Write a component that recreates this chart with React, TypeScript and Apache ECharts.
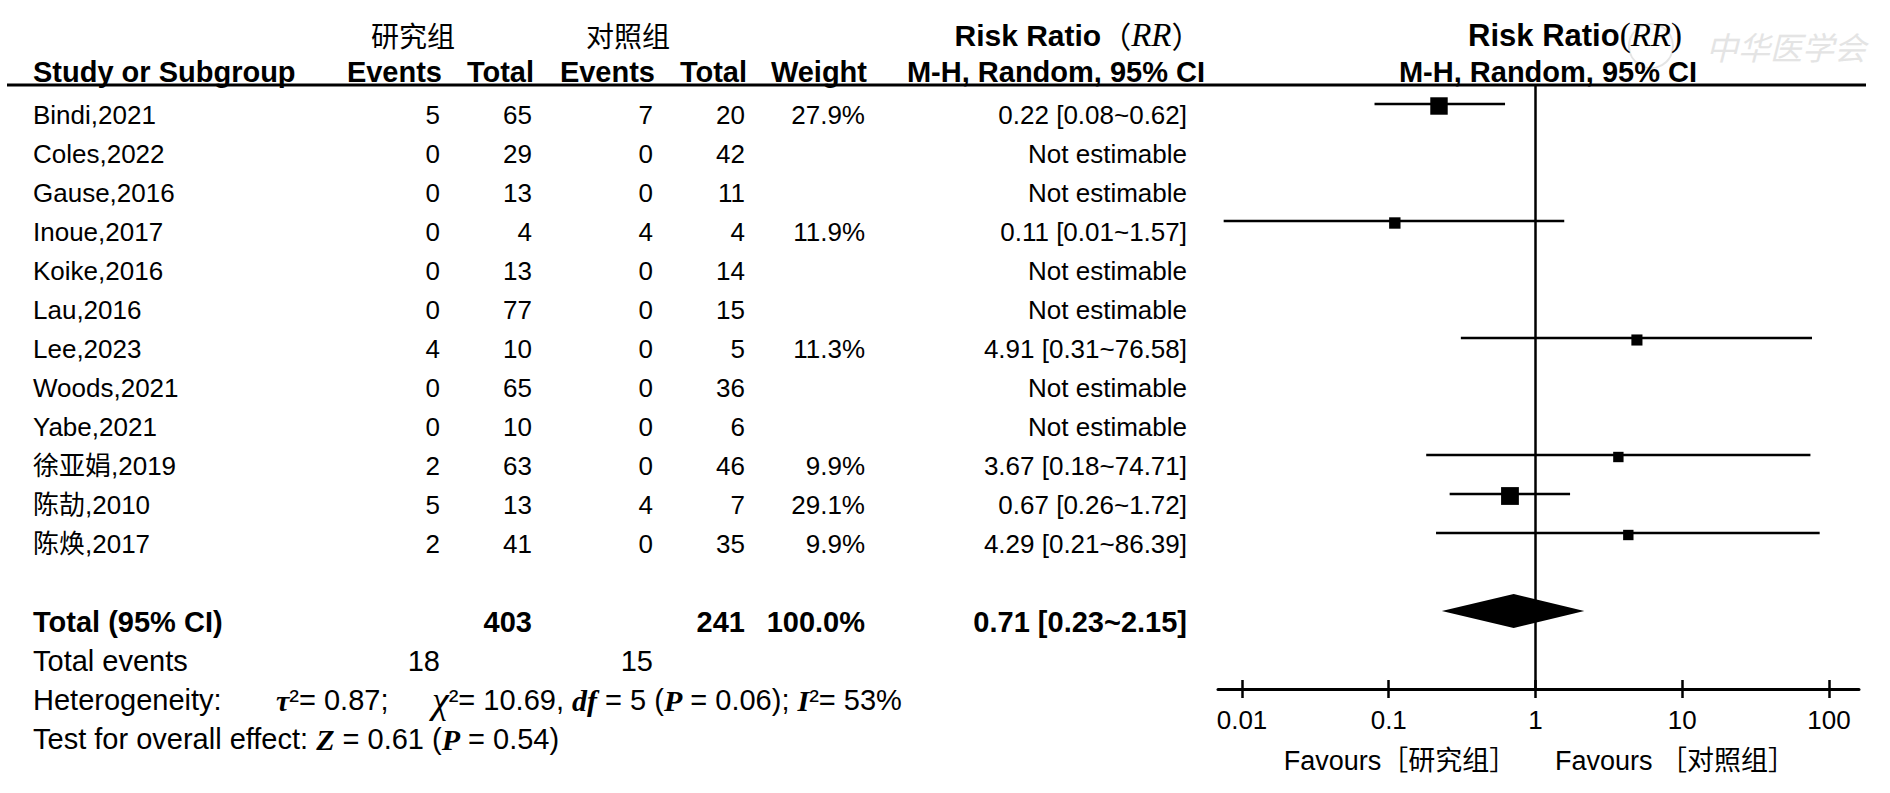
import React, { useEffect, useRef } from "react";
import * as echarts from "echarts";

// ---------------- data ----------------
const studies = ["Bindi,2021", "Coles,2022", "Gause,2016", "Inoue,2017", "Koike,2016", "Lau,2016", "Lee,2023", "Woods,2021", "Yabe,2021", "徐亚娟,2019", "陈劼,2010", "陈焕,2017"];
const expEvents = [5, 0, 0, 0, 0, 0, 4, 0, 0, 2, 5, 2];
const expTotal = [65, 29, 13, 4, 13, 77, 10, 65, 10, 63, 13, 41];
const ctlEvents = [7, 0, 0, 4, 0, 0, 0, 0, 0, 0, 4, 0];
const ctlTotal = [20, 42, 11, 4, 14, 15, 5, 36, 6, 46, 7, 35];
const weights: (number | null)[] = [27.9, null, null, 11.9, null, null, 11.3, null, null, 9.9, 29.1, 9.9];
const riskRatio: (number | null)[] = [0.22, null, null, 0.11, null, null, 4.91, null, null, 3.67, 0.67, 4.29];
const ciLow: (number | null)[] = [0.08, null, null, 0.0075, null, null, 0.31, null, null, 0.18, 0.26, 0.21];
const ciHigh: (number | null)[] = [0.62, null, null, 1.57, null, null, 76.58, null, null, 74.71, 1.72, 86.39];

const pooledRR = [0.71];
const pooledLow = [0.23];
const pooledHigh = [2.15];

const tau2 = "0.87";
const chi2 = "10.69";
const dfVal = "5";
const hetP = "0.06";
const i2 = "53%";
const zVal = "0.61";
const zP = "0.54";

const tickValues = [0.01, 0.1, 1, 10, 100];
const tickLabels = ["0.01", "0.1", "1", "10", "100"];

// ---------------- styles ----------------
const SANS = '"Liberation Sans", Arial, "Noto Sans CJK SC", sans-serif';
const CJK = '"Noto Sans CJK SC", sans-serif';
const SERIF = '"Liberation Serif", "DejaVu Serif", serif';
const FS = 26;
const FSB = 29;
const FSF = 29;

const COL = { name: 33, e1: 440, t1: 532, e2: 653, t2: 745, w: 865, ci: 1187 };
const TEXT_DY = 11;

const f2 = (v: number) => v.toFixed(2);
const sum = (a: number[]) => a.reduce((s, v) => s + v, 0);

type Cell = { x: number; align: string; text: string; rich?: any };
type Row = { row: number; bold: boolean; size: number; cells: Cell[] };

const richStyles = {
  n: { fontFamily: SANS, fontSize: FSF, fill: "#000" },
  i: { fontFamily: SERIF, fontStyle: "italic", fontWeight: "bold", fontSize: 30, fill: "#000" },
  c: { fontFamily: SERIF, fontStyle: "italic", fontSize: 38, fill: "#000" },
};

function buildRows(): Row[] {
  const rows: Row[] = studies.map((s, i) => {
    const r = riskRatio[i];
    const w = weights[i];
    return {
      row: i,
      bold: false,
      size: FS,
      cells: [
        { x: COL.name, align: "left", text: s },
        { x: COL.e1, align: "right", text: String(expEvents[i]) },
        { x: COL.t1, align: "right", text: String(expTotal[i]) },
        { x: COL.e2, align: "right", text: String(ctlEvents[i]) },
        { x: COL.t2, align: "right", text: String(ctlTotal[i]) },
        { x: COL.w, align: "right", text: w == null ? "" : w.toFixed(1) + "%" },
        {
          x: COL.ci,
          align: "right",
          text: r == null ? "Not estimable" : `${f2(r)} [${f2(ciLow[i] as number)}~${f2(ciHigh[i] as number)}]`,
        },
      ],
    };
  });
  const wSum = sum(weights.filter((v) => v != null) as number[]);
  rows.push({
    row: 13,
    bold: true,
    size: FSB,
    cells: [
      { x: COL.name, align: "left", text: "Total (95% CI)" },
      { x: COL.t1, align: "right", text: String(sum(expTotal)) },
      { x: COL.t2, align: "right", text: String(sum(ctlTotal)) },
      { x: COL.w, align: "right", text: wSum.toFixed(1) + "%" },
      { x: COL.ci, align: "right", text: `${f2(pooledRR[0])} [${f2(pooledLow[0])}~${f2(pooledHigh[0])}]` },
    ],
  });
  rows.push({
    row: 14,
    bold: false,
    size: FSF,
    cells: [
      { x: COL.name, align: "left", text: "Total events" },
      { x: COL.e1, align: "right", text: String(sum(expEvents)) },
      { x: COL.e2, align: "right", text: String(sum(ctlEvents)) },
    ],
  });
  rows.push({
    row: 15,
    bold: false,
    size: FSF,
    cells: [
      { x: COL.name, align: "left", text: "Heterogeneity:" },
      { x: 276, align: "left", text: `{i|τ}{n|²= ${tau2};}`, rich: richStyles },
      {
        x: 432,
        align: "left",
        text: `{c|χ}{n|²= ${chi2}, }{i|df}{n| = ${dfVal} (}{i|P}{n| = ${hetP}); }{i|I}{n|²= ${i2}}`,
        rich: richStyles,
      },
    ],
  });
  rows.push({
    row: 16,
    bold: false,
    size: FSF,
    cells: [
      {
        x: COL.name,
        align: "left",
        text: `{n|Test for overall effect: }{i|Z}{n| = ${zVal} (}{i|P}{n| = ${zP})}`,
        rich: richStyles,
      },
    ],
  });
  return rows;
}

export default function App() {
  const ref = useRef<HTMLDivElement>(null);

  useEffect(() => {
    const chart = echarts.init(ref.current as HTMLDivElement, null, { renderer: "svg" });
    const rows = buildRows();

    const studyData: any[] = [];
    riskRatio.forEach((r, i) => {
      if (r != null) studyData.push([r, i, ciLow[i], ciHigh[i], weights[i]]);
    });

    const headerTexts: any[] = [
      { x: 413, y: 35, text: "研究组", align: "center", font: `28px ${CJK}` },
      { x: 628, y: 35, text: "对照组", align: "center", font: `28px ${CJK}` },
      { x: COL.name, y: 72, text: "Study or Subgroup", align: "left", font: `bold ${FSB}px ${SANS}` },
      { x: COL.e1 + 2, y: 72, text: "Events", align: "right", font: `bold ${FSB}px ${SANS}` },
      { x: COL.t1 + 2, y: 72, text: "Total", align: "right", font: `bold ${FSB}px ${SANS}` },
      { x: COL.e2 + 2, y: 72, text: "Events", align: "right", font: `bold ${FSB}px ${SANS}` },
      { x: COL.t2 + 2, y: 72, text: "Total", align: "right", font: `bold ${FSB}px ${SANS}` },
      { x: COL.w + 2, y: 72, text: "Weight", align: "right", font: `bold ${FSB}px ${SANS}` },
      { x: 1056, y: 72, text: "M-H, Random, 95% CI", align: "center", font: `bold ${FSB}px ${SANS}` },
      { x: 1548, y: 72, text: "M-H, Random, 95% CI", align: "center", font: `bold ${FSB}px ${SANS}` },
      { x: 1400, y: 761, text: "Favours［研究组］", align: "center", font: `27px ${SANS}` },
      { x: 1675, y: 761, text: "Favours ［对照组］", align: "center", font: `27px ${SANS}` },
    ];

    const rrRichL = {
      b: { fontFamily: SANS, fontWeight: "bold", fontSize: 30, fill: "#000" },
      w: { fontFamily: CJK, fontSize: 30, fill: "#000" },
      i: { fontFamily: SERIF, fontStyle: "italic", fontSize: 33, fill: "#000" },
    };
    const rrRichR = {
      b: { fontFamily: SANS, fontWeight: "bold", fontSize: 31, fill: "#000" },
      s: { fontFamily: SERIF, fontSize: 33, fill: "#000" },
      i: { fontFamily: SERIF, fontStyle: "italic", fontSize: 33, fill: "#000" },
    };

    const graphic: any[] = [
      {
        type: "circle",
        shape: { cx: 1651, cy: 46, r: 22 },
        style: { fill: "none", stroke: "#e4e4e4", lineWidth: 2 },
        z: 0,
      },
      {
        type: "text",
        x: 1706,
        y: 46,
        z: 0,
        style: {
          text: "中华医学会",
          font: `italic 32px ${CJK}`,
          fill: "#e4e4e4",
          align: "left",
          verticalAlign: "middle",
        },
      },
      {
        type: "line",
        shape: { x1: 7, y1: 85, x2: 1866, y2: 85 },
        style: { stroke: "#000", lineWidth: 3 },
        z: 10,
      },
      ...headerTexts.map((t) => ({
        type: "text",
        x: t.x,
        y: t.y,
        z: 10,
        style: { text: t.text, font: t.font, fill: "#000", align: t.align, verticalAlign: "middle" },
      })),
      {
        type: "text",
        x: 1078,
        y: 35,
        z: 10,
        style: { text: "{b|Risk Ratio}{w|（}{i|RR}{w|）}", rich: rrRichL, align: "center", verticalAlign: "middle" },
      },
      {
        type: "text",
        x: 1575,
        y: 35,
        z: 10,
        style: { text: "{b|Risk Ratio}{s|(}{i|RR}{s|)}", rich: rrRichR, align: "center", verticalAlign: "middle" },
      },
    ];

    const xMin = 0.006863;
    const xMax = 160.1;
    const gridBox = { left: 1218, top: 85, width: 641, height: 604, containLabel: false };

    const option: any = {
      animation: false,
      backgroundColor: "#fff",
      grid: [{ ...gridBox }, { ...gridBox }],
      xAxis: [
        {
          type: "log",
          logBase: 10,
          gridIndex: 0,
          min: xMin,
          max: xMax,
          position: "bottom",
          axisLine: { show: true, onZero: false, lineStyle: { color: "#000", width: 3 } },
          axisTick: { show: true, inside: false, length: 9, lineStyle: { color: "#000", width: 2.5 }, customValues: tickValues },
          axisLabel: {
            show: true,
            customValues: tickValues,
            margin: 18,
            fontSize: FS,
            fontFamily: SANS,
            color: "#000",
            formatter: (v: number) => {
              const k = tickValues.findIndex((t) => Math.abs(Math.log10(t) - Math.log10(v)) < 1e-6);
              return k >= 0 ? tickLabels[k] : "";
            },
          },
          splitLine: { show: false },
        },
        {
          type: "log",
          logBase: 10,
          gridIndex: 1,
          min: xMin,
          max: xMax,
          position: "bottom",
          axisLine: { show: false, onZero: false },
          axisTick: { show: true, inside: true, length: 9, lineStyle: { color: "#000", width: 2.5 }, customValues: tickValues },
          axisLabel: { show: false },
          splitLine: { show: false },
        },
      ],
      yAxis: [
        { type: "value", gridIndex: 0, inverse: true, min: -19 / 39, max: 15, show: false },
        { type: "value", gridIndex: 1, min: 0, max: 1, show: false },
      ],
      graphic,
      series: [
        {
          type: "custom",
          name: "studies",
          xAxisIndex: 0,
          yAxisIndex: 0,
          clip: false,
          encode: { x: 0, y: 1 },
          data: studyData,
          renderItem: (params: any, api: any) => {
            const y = api.value(1);
            const c = api.coord([api.value(0), y]);
            const l = api.coord([api.value(2), y]);
            const h = api.coord([api.value(3), y]);
            const s = Math.sqrt(api.value(4)) * 3.3;
            return {
              type: "group",
              children: [
                { type: "line", shape: { x1: l[0], y1: l[1], x2: h[0], y2: h[1] }, style: { stroke: "#000", lineWidth: 2.5 } },
                { type: "rect", shape: { x: c[0] - s / 2, y: c[1] - s / 2 + 2, width: s, height: s }, style: { fill: "#000" } },
              ],
            };
          },
          markLine: {
            silent: true,
            symbol: "none",
            label: { show: false },
            lineStyle: { color: "#000", width: 2.5, type: "solid" },
            data: [{ xAxis: 1 }],
          },
          z: 5,
        },
        {
          type: "custom",
          name: "pooled",
          xAxisIndex: 0,
          yAxisIndex: 0,
          clip: false,
          encode: { x: 0, y: 1 },
          data: [[pooledRR[0], 13, pooledLow[0], pooledHigh[0]]],
          renderItem: (params: any, api: any) => {
            const y = api.value(1);
            const c = api.coord([api.value(0), y]);
            const l = api.coord([api.value(2), y]);
            const h = api.coord([api.value(3), y]);
            const hh = 17;
            return {
              type: "polygon",
              shape: { points: [[l[0], c[1]], [c[0], c[1] - hh], [h[0], c[1]], [c[0], c[1] + hh]] },
              style: { fill: "#000" },
            };
          },
          z: 6,
        },
        {
          type: "custom",
          name: "table",
          xAxisIndex: 0,
          yAxisIndex: 0,
          clip: false,
          encode: { x: 0, y: 1 },
          data: rows.map((r) => [1, r.row]),
          renderItem: (params: any, api: any) => {
            const row = rows[params.dataIndex];
            const y = api.coord([1, api.value(1)])[1] + TEXT_DY;
            return {
              type: "group",
              children: row.cells.map((c) => ({
                type: "text",
                x: c.x,
                y,
                style: c.rich
                  ? { text: c.text, rich: c.rich, align: c.align, verticalAlign: "middle" }
                  : {
                      text: c.text,
                      font: `${row.bold ? "bold " : ""}${row.size}px ${SANS}`,
                      fill: "#000",
                      align: c.align,
                      verticalAlign: "middle",
                    },
              })),
            };
          },
          z: 7,
        },
      ],
    };

    chart.setOption(option);
    return () => chart.dispose();
  }, []);

  return (
    <div
      ref={ref}
      style={{ position: "fixed", left: 0, top: 0, width: 1890, height: 793, background: "#fff" }}
    />
  );
}
